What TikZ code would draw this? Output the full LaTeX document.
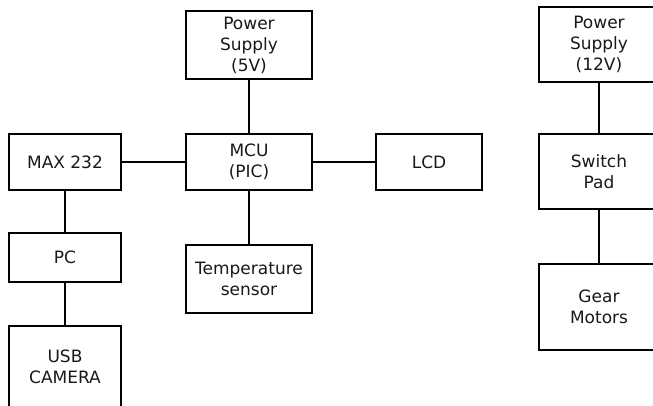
\documentclass[tikz,border=0pt]{standalone}
\usepackage{fontspec}
\setmainfont{DejaVu Sans}
\begin{document}
\begin{tikzpicture}[x=1pt,y=-1pt,
  blk/.style={draw=black, line width=1.9pt, fill=white, minimum width=#1, align=center, inner sep=0pt,
    font=\fontsize{17}{21}\selectfont, text=black!90},
  wire/.style={draw=black, line width=1.9pt}]
\useasboundingbox (0,0) rectangle (653,406);
\clip (0,0) rectangle (653,406);
\node[blk=126pt, minimum height=68pt] (ps5) at (249,45) {Power\\Supply\\(5V)};
\node[blk=126pt, minimum height=56pt] (mcu) at (249,162) {MCU\\(PIC)};
\node[blk=112pt, minimum height=56pt] (max) at (65,162) {MAX 232};
\node[blk=112pt, minimum height=49pt] (pc) at (65,257.5) {PC};
\node[blk=112pt, minimum height=82pt] (usb) at (65,367) {USB\\CAMERA};
\node[blk=126pt, minimum height=68pt] (temp) at (249,279) {Temperature\\sensor};
\node[blk=106pt, minimum height=56pt] (lcd) at (429,162) {LCD};
\node[blk=120pt, minimum height=75pt] (ps12) at (599,44.5) {Power\\Supply\\(12V)};
\node[blk=120pt, minimum height=75pt] (sw) at (599,171.5) {Switch\\Pad};
\node[blk=120pt, minimum height=86pt] (gear) at (599,307) {Gear\\Motors};
\draw[wire] (ps5) -- (mcu);
\draw[wire] (max) -- (mcu);
\draw[wire] (mcu) -- (lcd);
\draw[wire] (mcu) -- (temp);
\draw[wire] (max) -- (pc);
\draw[wire] (pc) -- (usb);
\draw[wire] (ps12) -- (sw);
\draw[wire] (sw) -- (gear);
\end{tikzpicture}
\end{document}
